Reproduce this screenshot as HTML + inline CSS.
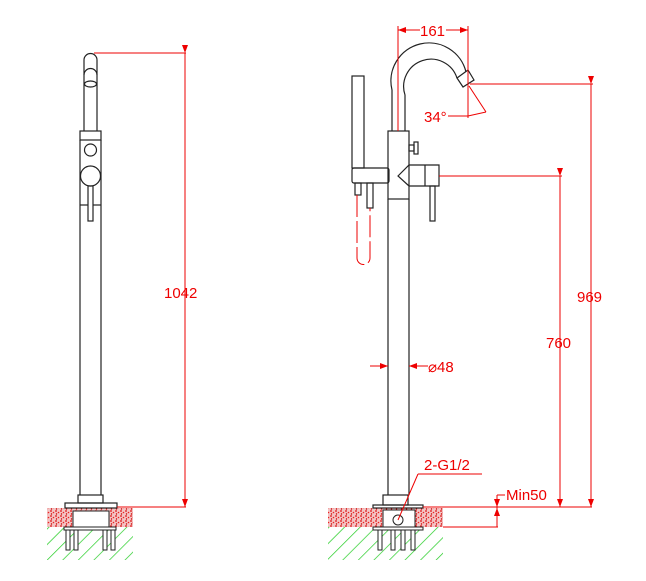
<!DOCTYPE html>
<html><head><style>html,body{margin:0;padding:0;background:#fff}svg{display:block}</style></head><body>
<svg width="646" height="581" viewBox="0 0 646 581" xmlns="http://www.w3.org/2000/svg" font-family="Liberation Sans, sans-serif">
<defs>
<pattern id="hatch" width="11" height="11" patternUnits="userSpaceOnUse" patternTransform="rotate(45)">
<line x1="0" y1="0" x2="0" y2="11" stroke="#22cc22" stroke-width="1.4"/>
</pattern>
<pattern id="dots" width="5" height="5" patternUnits="userSpaceOnUse">
<rect width="5" height="5" fill="#f3c4c4"/>
<circle cx="1" cy="1" r="0.9" fill="#d11"/><circle cx="3.5" cy="2.5" r="0.8" fill="#e22"/><circle cx="1.5" cy="4" r="0.7" fill="#c00"/>
</pattern>
<marker id="ar" markerWidth="8" markerHeight="6" refX="8" refY="3" orient="auto" markerUnits="userSpaceOnUse"><path d="M0,0 L8,3 L0,6z" fill="#e00"/></marker>
</defs>
<rect x="47" y="508" width="86" height="19" fill="url(#dots)"/>
<rect x="47" y="527" width="86" height="33" fill="url(#hatch)"/>
<rect x="328" y="508" width="115" height="19" fill="url(#dots)"/>
<rect x="328" y="527" width="115" height="33" fill="url(#hatch)"/>
<g fill="none" stroke="#222" stroke-width="1.2">
<path d="M84 131 V60 A6.5 6.5 0 0 1 97 60 V131"/>
<path d="M84 75 A6.5 6.5 0 0 1 97 75"/>
<ellipse cx="90.5" cy="84" rx="6" ry="3"/>
<rect x="80" y="131" width="21" height="9"/>
<line x1="80" y1="140" x2="80" y2="495"/><line x1="101" y1="140" x2="101" y2="495"/>
<circle cx="90.5" cy="150" r="6"/>
<circle cx="90.5" cy="176" r="10"/>
<rect x="88" y="186" width="5" height="35"/>
<line x1="80" y1="205" x2="88" y2="205"/><line x1="93" y1="205" x2="101" y2="205"/>
<rect x="78" y="495" width="25" height="8"/>
<rect x="65" y="503" width="52" height="5"/>
<path d="M392 131 V90 A38 38 0 0 1 466 72"/>
<path d="M405 131 V95 A25 25 0 0 1 457 78"/>
<path d="M457 78 L468 70 L474 80 L463 87 Z"/>
<rect x="388" y="131" width="21" height="68"/>
<line x1="388" y1="199" x2="388" y2="495"/><line x1="409" y1="199" x2="409" y2="495"/>
<rect x="409" y="145" width="5" height="6"/><rect x="414" y="142" width="4" height="12"/>
<path d="M398 176 L409 165 H439 V186 H409 Z"/>
<line x1="425" y1="165" x2="425" y2="186"/>
<rect x="430" y="186" width="5" height="35"/>
<rect x="352" y="76" width="12" height="92"/>
<rect x="352" y="168" width="37" height="15" rx="2"/>
<rect x="355" y="183" width="6" height="12"/><rect x="367" y="183" width="6" height="25"/>
<rect x="383" y="495" width="25" height="10"/>
<rect x="373" y="505" width="50" height="3"/>
</g>
<g fill="#fff" stroke="#222" stroke-width="1">
<rect x="73" y="511" width="36" height="16"/><rect x="64" y="527" width="52" height="3"/>
<rect x="66" y="530" width="4" height="20"/><rect x="74" y="530" width="4" height="20"/><rect x="103" y="530" width="4" height="20"/><rect x="111" y="530" width="4" height="20"/>
<rect x="383" y="510" width="32" height="17"/><rect x="373" y="527" width="50" height="3"/>
<rect x="378" y="530" width="4" height="20"/><rect x="391" y="530" width="4" height="20"/><rect x="401" y="530" width="4" height="20"/><rect x="411" y="530" width="4" height="20"/>
<circle cx="398" cy="520" r="5"/>
</g>
<g stroke="#e00" stroke-width="1" fill="none">
<line x1="94" y1="53" x2="186" y2="53"/>
<line x1="185" y1="53" x2="185" y2="507" marker-start="url(#ar)" marker-end="url(#ar)"/>
<line x1="117" y1="507" x2="186" y2="507"/>
<line x1="398" y1="26" x2="398" y2="131"/><line x1="468" y1="26" x2="468" y2="118"/>
<line x1="420" y1="30" x2="398" y2="30" marker-end="url(#ar)"/><line x1="446" y1="30" x2="468" y2="30" marker-end="url(#ar)"/>
<line x1="469" y1="86" x2="486" y2="112"/>
<path d="M448 116 H468 L486 112" />
<line x1="470" y1="84" x2="593" y2="84"/>
<line x1="591" y1="84" x2="591" y2="507" marker-start="url(#ar)" marker-end="url(#ar)"/>
<line x1="439" y1="176" x2="562" y2="176"/>
<line x1="560" y1="176" x2="560" y2="507" marker-start="url(#ar)" marker-end="url(#ar)"/>
<line x1="423" y1="507" x2="592" y2="507"/>
<line x1="443" y1="527" x2="498" y2="527"/>
<line x1="497" y1="495" x2="497" y2="527"/>
<line x1="497" y1="495" x2="505" y2="495"/>
<line x1="497" y1="500" x2="497" y2="507" marker-end="url(#ar)"/>
<line x1="497" y1="516" x2="497" y2="508" marker-end="url(#ar)"/>
<line x1="370" y1="366" x2="388" y2="366" marker-end="url(#ar)"/>
<line x1="428" y1="366" x2="409" y2="366" marker-end="url(#ar)"/>
<path d="M357 195 V258 A6.5 6.5 0 0 0 370 258 V208" stroke-dasharray="22 4"/>
<line x1="418" y1="474" x2="482" y2="474"/><line x1="418" y1="474" x2="398" y2="520"/>
</g>
<g fill="#e00" font-size="15">
<text x="164" y="298">1042</text>
<text x="420" y="36">161</text>
<text x="424" y="122">34°</text>
<text x="577" y="302">969</text>
<text x="546" y="348">760</text>
<text x="428" y="372">⌀48</text>
<text x="424" y="470">2-G1/2</text>
<text x="506" y="500">Min50</text>
</g>
</svg>
</body></html>
